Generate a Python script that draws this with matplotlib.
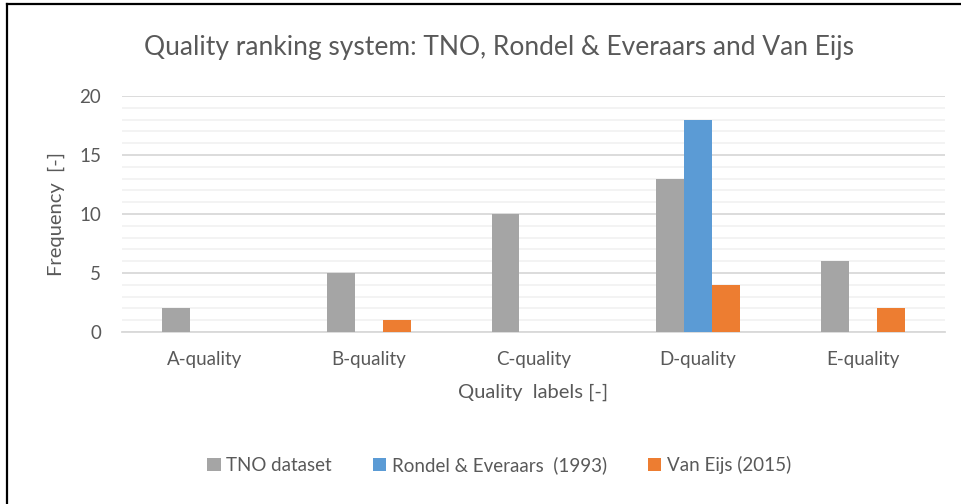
import numpy as np
import matplotlib.pyplot as plt
from matplotlib.lines import Line2D

plt.rcParams['font.family'] = ['Lato', 'DejaVu Sans']

# data
categories = ['A-quality', 'B-quality', 'C-quality', 'D-quality', 'E-quality']
tno = [2, 5, 10, 13, 6]
rondel = [0, 0, 0, 18, 0]
van_eijs = [0, 1, 0, 4, 2]
series_names = ['TNO dataset', 'Rondel & Everaars  (1993)', 'Van Eijs (2015)']

colors = {'gray': '#A5A5A5', 'blue': '#5B9BD5', 'orange': '#ED7D31'}
text_col = '#595959'

fig = plt.figure(figsize=(9.62, 5.04), dpi=100)
ax = fig.add_axes([0.1268, 0.3413, 0.8555, 0.4682])

x = np.arange(len(categories))
w = 0.17
ax.bar(x - w, tno, w, color=colors['gray'], label=series_names[0], zorder=3)
ax.bar(x, rondel, w, color=colors['blue'], label=series_names[1], zorder=3)
ax.bar(x + w, van_eijs, w, color=colors['orange'], label=series_names[2], zorder=3)

ax.set_xlim(-0.5, len(categories) - 0.5)
ax.set_ylim(0, 20)
ax.set_yticks(np.arange(0, 21, 5))
ax.set_yticks(np.arange(0, 21, 1), minor=True)
ax.grid(axis='y', which='major', color='#D9D9D9', lw=1.3, zorder=1)
ax.grid(axis='y', which='minor', color='#F2F2F2', lw=1.3, zorder=0)
ax.set_xticks(x)
ax.set_xticklabels(categories)
for s in ['top', 'right', 'left']:
    ax.spines[s].set_visible(False)
ax.spines['bottom'].set_color('#D9D9D9')
ax.spines['bottom'].set_linewidth(1.3)
ax.tick_params(axis='y', which='both', length=0, pad=15, labelsize=13.5, labelcolor=text_col)
ax.tick_params(axis='x', length=0, pad=14, labelsize=13.5, labelcolor=text_col)

ax.set_xlabel('Quality  labels [-]', fontsize=14.5, color=text_col, labelpad=11)
ax.set_ylabel('Frequency  [-]', fontsize=14.5, color=text_col, labelpad=10)
fig.text(0.519, 0.906, 'Quality ranking system: TNO, Rondel & Everaars and Van Eijs',
         ha='center', va='center', fontsize=19, color=text_col)

fig.legend(loc='center', bbox_to_anchor=(0.519, 0.077), ncol=3, frameon=False,
           fontsize=13.5, labelcolor=text_col, handlelength=0.7, handleheight=0.7,
           handletextpad=0.3, columnspacing=2.2)

# outer border (only top and left visible in the crop)
fig.add_artist(Line2D([7 / 962, 7 / 962], [0, 1 - 4 / 504], transform=fig.transFigure,
                      color='black', lw=1.6))
fig.add_artist(Line2D([7 / 962, 1], [1 - 4 / 504, 1 - 4 / 504], transform=fig.transFigure,
                      color='black', lw=1.6))

plt.savefig('out.png', dpi=100)
